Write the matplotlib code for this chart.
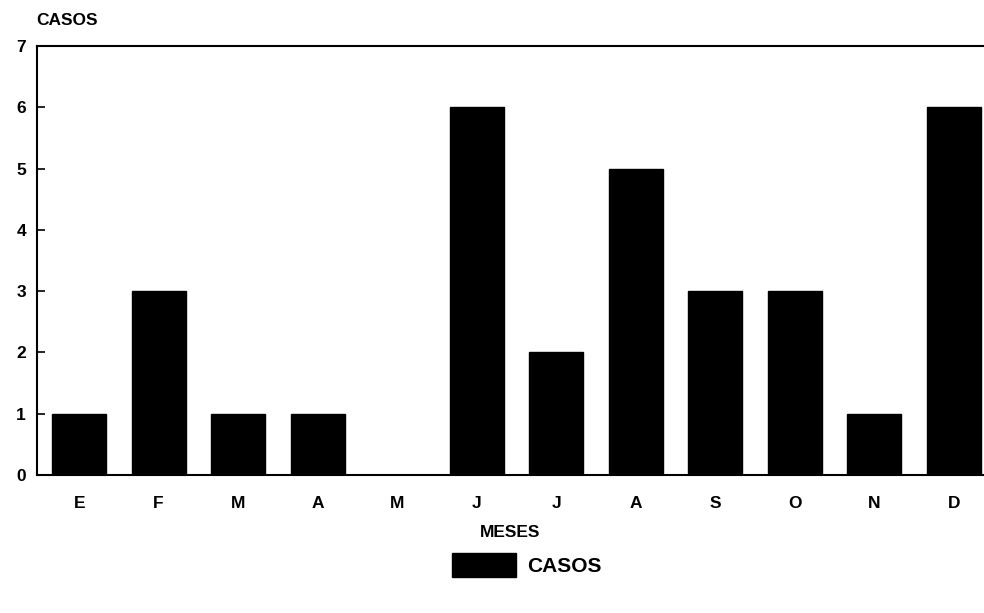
import matplotlib
matplotlib.use("Agg")
import matplotlib.pyplot as plt
from matplotlib.patches import Patch

# data
meses = ["E", "F", "M", "A", "M", "J", "J", "A", "S", "O", "N", "D"]
casos = [1, 3, 1, 1, 0, 6, 2, 5, 3, 3, 1, 6]

plt.rcParams['font.family'] = ['Liberation Sans', 'DejaVu Sans']
plt.rcParams['font.weight'] = 'bold'

fig = plt.figure(figsize=(9.84, 6.13), dpi=100)
ax = fig.add_axes([0.0376, 0.2251, 0.9624, 0.6999])

x = range(len(meses))
ax.bar(x, casos, width=0.68, color='black', edgecolor='black')

ax.set_xlim(-0.53, 11.38)
ax.set_ylim(0, 7)
ax.set_yticks(range(8))
ax.set_xticks(list(x))
ax.set_xticklabels(meses, fontsize=12.5, fontweight='bold')
ax.tick_params(axis='y', direction='in', length=6, width=1.2,
               labelsize=12.5, pad=8)
ax.tick_params(axis='x', length=0, pad=15)
for lbl in ax.get_yticklabels():
    lbl.set_fontweight('bold')

ax.spines['right'].set_visible(False)
for s in ['left', 'bottom', 'top']:
    ax.spines[s].set_linewidth(1.5)

ax.set_xlabel("MESES", fontsize=12.5, fontweight='bold', labelpad=10)
fig.text(0.037, 0.966, "CASOS", fontsize=12.5, fontweight='bold',
         ha='left', va='center')

fig.legend(handles=[Patch(facecolor='black', edgecolor='black', label='CASOS')],
           loc='center', bbox_to_anchor=(0.535, 0.078), frameon=False,
           fontsize=15, handlelength=3.1, handleheight=1.35, handletextpad=0.5)

fig.savefig("out.png", dpi=100)
